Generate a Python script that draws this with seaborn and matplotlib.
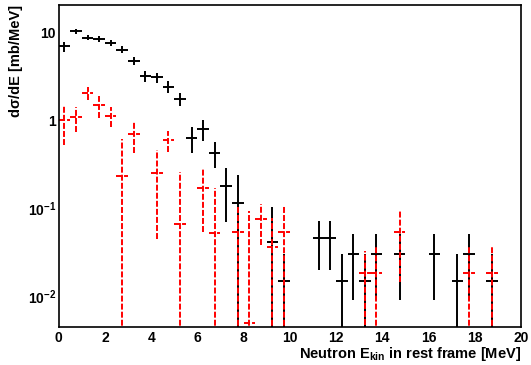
import numpy as np
import pandas as pd
import seaborn as sns
import matplotlib
matplotlib.use('Agg')
import matplotlib.pyplot as plt
from matplotlib.ticker import FixedLocator, FixedFormatter, MultipleLocator

# black histogram (bin centres in MeV, value, error)
negro_e = [0.25, 0.75, 1.25, 1.75, 2.25, 2.75, 3.25, 3.75, 4.25, 4.75, 5.25, 5.75,
           6.25, 6.75, 7.25, 7.75, 9.25, 9.75, 11.25, 11.75, 12.25, 12.75, 13.25,
           13.75, 14.75, 16.25, 17.25, 17.75, 18.75]
negro_v = [6.9, 10.3, 8.7, 8.4, 7.5, 6.35, 4.69, 3.19, 3.08, 2.41, 1.74, 0.637,
           0.792, 0.43, 0.18, 0.1145, 0.042, 0.015, 0.046, 0.046, 0.015, 0.030, 0.015,
           0.030, 0.030, 0.030, 0.015, 0.030, 0.015]
negro_err = [0.9, 0.7, 0.6, 0.6, 0.6, 0.55, 0.5, 0.45, 0.4, 0.38, 0.3, 0.21,
             0.216, 0.143, 0.11, 0.125, 0.061, 0.015, 0.026, 0.026, 0.015, 0.021, 0.015,
             0.021, 0.021, 0.021, 0.015, 0.021, 0.015]

# red histogram
rojo_e = [0.25, 0.75, 1.25, 1.75, 2.25, 2.75, 3.25, 4.25, 4.75, 5.25, 6.25, 6.75,
          7.75, 8.25, 8.75, 9.25, 9.75, 13.25, 13.75, 14.75, 17.75, 18.75]
rojo_v = [1.01, 1.077, 2.03, 1.49, 1.13, 0.236, 0.695, 0.255, 0.6, 0.066, 0.17, 0.052,
          0.0546, 0.00506, 0.0755, 0.0368, 0.0546, 0.0187, 0.0187, 0.0546, 0.0187, 0.0187]
rojo_err = [0.49, 0.35, 0.35, 0.42, 0.3, 0.37, 0.27, 0.21, 0.165, 0.196, 0.116, 0.118,
            0.055, 0.089, 0.037, 0.04, 0.055, 0.014, 0.019, 0.04, 0.019, 0.019]

ancho = 0.25  # medio ancho de bin

y_ticks = [0.01, 0.1, 1, 10]
y_labels = ['10$^{-2}$', '10$^{-1}$', '1', '10']

df_negro = pd.DataFrame({'E': negro_e, 'v': negro_v, 'err': negro_err})
df_rojo = pd.DataFrame({'E': rojo_e, 'v': rojo_v, 'err': rojo_err})

sns.set_style('white')
plt.rcParams['font.family'] = ['Liberation Sans', 'DejaVu Sans']
plt.rcParams['font.weight'] = 'bold'
plt.rcParams['text.color'] = 'black'
plt.rcParams['axes.labelcolor'] = 'black'
plt.rcParams['xtick.color'] = 'black'
plt.rcParams['ytick.color'] = 'black'
plt.rcParams['mathtext.fontset'] = 'custom'
plt.rcParams['mathtext.rm'] = 'Liberation Sans:bold'
plt.rcParams['mathtext.bf'] = 'Liberation Sans:bold'
plt.rcParams['mathtext.default'] = 'rm'
plt.rcParams['lines.scale_dashes'] = False

fig = plt.figure(figsize=(5.31, 3.65), dpi=100)
ax = fig.add_axes([0.1105, 0.1041, 0.8706, 0.8830])

eb = ax.errorbar(df_negro['E'], df_negro['v'], xerr=ancho, yerr=df_negro['err'],
                 fmt='none', ecolor='black', elinewidth=1.4, capsize=0)
eb2 = ax.errorbar(df_rojo['E'], df_rojo['v'], xerr=ancho, yerr=df_rojo['err'],
                  fmt='none', ecolor='red', elinewidth=1.4, capsize=0)
for c in eb2[2]:
    c.set_linestyle((0, (4.3, 1.5)))

ax.set_yscale('log')
ax.set_xlim(0, 20)
ax.set_ylim(0.0045, 20.5)

ax.xaxis.set_major_locator(MultipleLocator(2))
ax.xaxis.set_minor_locator(MultipleLocator(0.5))
ax.yaxis.set_major_locator(FixedLocator(y_ticks))
ax.yaxis.set_major_formatter(FixedFormatter(y_labels))

ax.tick_params(axis='both', which='both', direction='in', top=False, right=False,
               labelsize=10, width=1.0, color='black', labelcolor='black')
ax.tick_params(axis='x', which='major', length=6.5, pad=3)
ax.tick_params(axis='x', which='minor', length=3.5)
ax.tick_params(axis='y', which='major', length=9, pad=2)
ax.tick_params(axis='y', which='minor', length=4.5)

for s in ax.spines.values():
    s.set_linewidth(1.2)
    s.set_color('black')

ax.set_xlabel('Neutron E$_{kin}$ in rest frame [MeV]', loc='right', fontsize=10.5,
              fontweight='bold', labelpad=0, color='black')
ax.set_ylabel('d\u03c3/dE [mb/MeV]', loc='top', fontsize=10.5, fontweight='bold',
              labelpad=3, color='black')

fig.savefig('out.png', dpi=100)
